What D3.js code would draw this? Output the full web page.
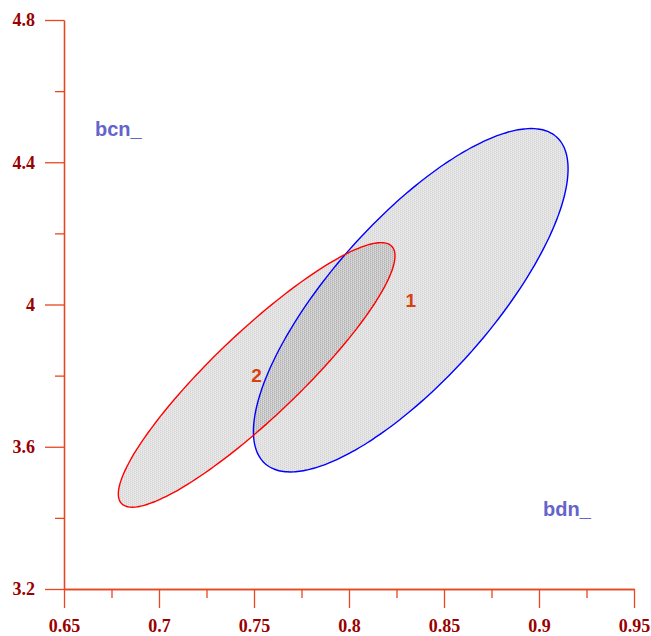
<!DOCTYPE html>
<html>
<head>
<meta charset="utf-8">
<script src="https://cdn.jsdelivr.net/npm/d3@7"></script>
<style>
  html, body { margin: 0; padding: 0; background: #ffffff; }
  svg { display: block; }
</style>
</head>
<body>
<svg id="chart" width="651" height="636"></svg>
<script>
// Confidence ellipses for two groups (bdn_ vs bcn_)
const groupIds    = ["1", "2"];
const centerX     = [0.8325, 0.7514];   // bdn_ centre
const centerY     = [4.012, 3.802];     // bcn_ centre
const extentX     = [0.0828, 0.0728];   // half range along bdn_
const extentY     = [0.4828, 0.3720];   // half range along bcn_
const correlation = [0.765, 0.9];
const strokeColors = ["#0000ff", "#ff0000"];

const xMajorTicks = [0.65, 0.7, 0.75, 0.8, 0.85, 0.9, 0.95];
const xMinorTicks = [0.675, 0.725, 0.775, 0.825, 0.875, 0.925];
const xTickLabels = ["0.65", "0.7", "0.75", "0.8", "0.85", "0.9", "0.95"];
const yMajorTicks = [3.2, 3.6, 4.0, 4.4, 4.8];
const yMinorTicks = [3.4, 3.8, 4.2, 4.6];
const yTickLabels = ["3.2", "3.6", "4", "4.4", "4.8"];
const xAxisTitle = "bdn_";
const yAxisTitle = "bcn_";

const svg = d3.select("#chart");
const x = d3.scaleLinear().domain([0.65, 0.95]).range([64, 634]);
const y = d3.scaleLinear().domain([3.2, 4.8]).range([589, 20]);

const axisColor = "#e8461e";
const labelColor = "#990000";

// Fine grey texture used to fill the ellipses
const defs = svg.append("defs");
const pat = defs.append("pattern")
  .attr("id", "texture")
  .attr("width", 4).attr("height", 4)
  .attr("patternUnits", "userSpaceOnUse");
pat.append("rect").attr("width", 4).attr("height", 4).attr("fill", "rgba(0,0,0,0.11)");
pat.append("path").attr("d", "M0,0h1v1h-1zM2,1h1v1h-1zM0,2h1v1h-1zM2,3h1v1h-1z")
  .attr("fill", "rgba(0,0,0,0.07)");
pat.append("path").attr("d", "M1,1h1v1h-1zM3,0h1v1h-1zM1,3h1v1h-1zM3,2h1v1h-1z")
  .attr("fill", "rgba(255,255,255,0.25)");

// Ellipse outline: x = cx + sx cos t, y = cy + sy cos(t - acos(rho))
function ellipsePoints(i) {
  const delta = Math.acos(correlation[i]);
  return d3.range(0, 360, 2).map(deg => {
    const t = deg * Math.PI / 180;
    return [centerX[i] + extentX[i] * Math.cos(t),
            centerY[i] + extentY[i] * Math.cos(t - delta)];
  });
}
const line = d3.line().x(d => x(d[0])).y(d => y(d[1])).curve(d3.curveCardinalClosed);

const ellipses = svg.append("g");
groupIds.forEach((id, i) => {
  ellipses.append("path")
    .attr("d", line(ellipsePoints(i)))
    .attr("fill", "url(#texture)")
    .attr("stroke", "none");
});
groupIds.forEach((id, i) => {
  ellipses.append("path")
    .attr("d", line(ellipsePoints(i)))
    .attr("fill", "none")
    .attr("stroke", strokeColors[i])
    .attr("stroke-width", 1.4);
});

// Group numbers at ellipse centres
groupIds.forEach((id, i) => {
  svg.append("text")
    .attr("x", x(centerX[i]))
    .attr("y", y(centerY[i]))
    .attr("dy", "0.35em")
    .attr("text-anchor", "middle")
    .attr("font-family", "Liberation Sans, Arial, sans-serif")
    .attr("font-weight", "bold")
    .attr("font-size", 19)
    .attr("fill", "#d9400f")
    .text(id);
});

// Axes
function styleAxis(g) {
  g.select(".domain").attr("stroke", axisColor).attr("stroke-width", 1.3);
  g.selectAll(".tick line").attr("stroke", axisColor).attr("stroke-width", 1.3);
  g.selectAll(".tick text")
    .attr("fill", labelColor)
    .attr("font-family", "Liberation Serif, Times New Roman, serif")
    .attr("font-weight", "bold")
    .attr("font-size", 18);
}

svg.append("g")
  .attr("transform", `translate(0,${y(3.2)})`)
  .call(d3.axisBottom(x).tickValues(xMinorTicks).tickSize(9).tickFormat("").tickSizeOuter(0))
  .call(styleAxis);
svg.append("g")
  .attr("transform", `translate(0,${y(3.2)})`)
  .call(d3.axisBottom(x).tickValues(xMajorTicks).tickSize(19).tickPadding(11)
        .tickFormat((d, i) => xTickLabels[i]).tickSizeOuter(0))
  .call(styleAxis);

svg.append("g")
  .attr("transform", `translate(${x(0.65)},0)`)
  .call(d3.axisLeft(y).tickValues(yMinorTicks).tickSize(9).tickFormat("").tickSizeOuter(0))
  .call(styleAxis);
svg.append("g")
  .attr("transform", `translate(${x(0.65)},0)`)
  .call(d3.axisLeft(y).tickValues(yMajorTicks).tickSize(19).tickPadding(10)
        .tickFormat((d, i) => yTickLabels[i]).tickSizeOuter(0))
  .call(styleAxis);

// Axis titles
const titleStyle = sel => sel
  .attr("font-family", "Liberation Sans, Arial, sans-serif")
  .attr("font-weight", "bold")
  .attr("font-size", 20)
  .attr("fill", "#6464cc");
svg.append("text").attr("x", 95).attr("y", 136).text(yAxisTitle).call(titleStyle);
svg.append("text").attr("x", 543).attr("y", 516).text(xAxisTitle).call(titleStyle);
</script>
</body>
</html>
